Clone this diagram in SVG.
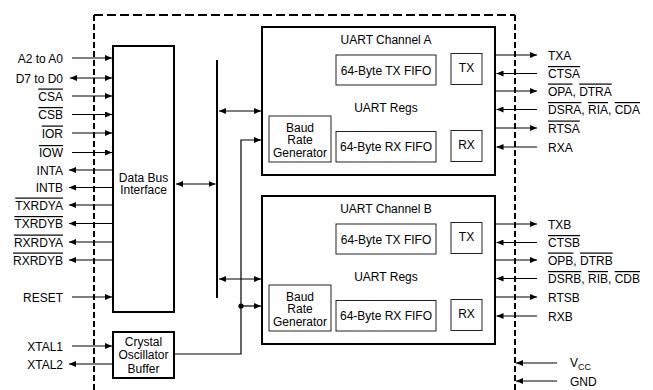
<svg xmlns="http://www.w3.org/2000/svg" width="653" height="390" viewBox="0 0 653 390">
<defs>
<marker id="ah" markerUnits="userSpaceOnUse" markerWidth="8" markerHeight="6" refX="7" refY="3" orient="auto-start-reverse">
<path d="M0,0 L7,3 L0,6 z" fill="#000"/>
</marker>
<style>
text{font-family:"Liberation Sans",Arial,sans-serif;font-size:12px;fill:#000}
.l{text-anchor:end}
.m{text-anchor:middle}
.box{fill:#fff;stroke:#000;stroke-width:2}
.ibox{fill:#fff;stroke:#222;stroke-width:1}
.w{fill:none;stroke:#000;stroke-width:1.2}
.a{marker-end:url(#ah)}
.b{marker-start:url(#ah);marker-end:url(#ah)}
.ov{text-decoration:overline}
.dash{fill:none;stroke:#000;stroke-width:2}
</style>
</defs>
<rect width="653" height="390" fill="#fff"/>
<g id="border">
<path class="dash" d="M94,15 H515" stroke-dasharray="9 4"/>
<path class="dash" d="M94,15 V390" stroke-dasharray="6 3"/>
<path class="dash" d="M515,15 V390" stroke-dasharray="6 3"/>
</g>
<g id="connectors">
<line class="w a" x1="72" y1="58" x2="112" y2="58"/>
<line class="w b" x1="70" y1="78" x2="112" y2="78"/>
<line class="w a" x1="72" y1="96" x2="112" y2="96"/>
<line class="w a" x1="72" y1="114.5" x2="112" y2="114.5"/>
<line class="w a" x1="72" y1="133" x2="112" y2="133"/>
<line class="w a" x1="72" y1="152.5" x2="112" y2="152.5"/>
<line class="w a" x1="112" y1="170" x2="69" y2="170"/>
<line class="w a" x1="112" y1="187.5" x2="69" y2="187.5"/>
<line class="w a" x1="112" y1="205" x2="69" y2="205"/>
<line class="w a" x1="112" y1="223.5" x2="69" y2="223.5"/>
<line class="w a" x1="112" y1="242" x2="69" y2="242"/>
<line class="w a" x1="112" y1="260" x2="69" y2="260"/>
<line class="w a" x1="72" y1="297" x2="112" y2="297"/>
<line class="w a" x1="72" y1="346" x2="112" y2="346"/>
<line class="w a" x1="112" y1="364" x2="69" y2="364"/>
<line x1="217" y1="60" x2="217" y2="298" stroke="#000" stroke-width="2"/>
<line class="w b" x1="176" y1="184" x2="215.5" y2="184"/>
<line class="w b" x1="219" y1="111" x2="261" y2="111"/>
<line class="w b" x1="219" y1="279" x2="261" y2="279"/>
<polyline class="w a" points="175,354 241,354 241,140 261,140"/>
<circle cx="241" cy="306" r="2.6" fill="#000"/>
<line class="w a" x1="241" y1="306" x2="261" y2="306"/>
<line class="w a" x1="496" y1="55" x2="537" y2="55"/>
<line class="w a" x1="537" y1="73.5" x2="496.5" y2="73.5"/>
<line class="w a" x1="496" y1="91" x2="537" y2="91"/>
<line class="w a" x1="537" y1="109.5" x2="496.5" y2="109.5"/>
<line class="w a" x1="496" y1="128" x2="537" y2="128"/>
<line class="w a" x1="537" y1="147" x2="496.5" y2="147"/>
<line class="w a" x1="496" y1="224" x2="537" y2="224"/>
<line class="w a" x1="537" y1="242.5" x2="496.5" y2="242.5"/>
<line class="w a" x1="496" y1="260" x2="537" y2="260"/>
<line class="w a" x1="537" y1="278.5" x2="496.5" y2="278.5"/>
<line class="w a" x1="496" y1="297" x2="537" y2="297"/>
<line class="w a" x1="537" y1="316" x2="496.5" y2="316"/>
<line class="w a" x1="557" y1="363" x2="516" y2="363"/>
<line class="w a" x1="557" y1="381" x2="516" y2="381"/>
</g>
<g id="left-labels">
<text class="l" x="63" y="62.5">A2 to A0</text>
<text class="l" x="63" y="82.5">D7 to D0</text>
<text class="l" x="63" y="100.5"><tspan class="ov">CSA</tspan></text>
<text class="l" x="63" y="119"><tspan class="ov">CSB</tspan></text>
<text class="l" x="63" y="137.5"><tspan class="ov">IOR</tspan></text>
<text class="l" x="63" y="157"><tspan class="ov">IOW</tspan></text>
<text class="l" x="63" y="174.5">INTA</text>
<text class="l" x="63" y="192">INTB</text>
<text class="l" x="63" y="209.5"><tspan class="ov">TXRDYA</tspan></text>
<text class="l" x="63" y="228"><tspan class="ov">TXRDYB</tspan></text>
<text class="l" x="63" y="246.5"><tspan class="ov">RXRDYA</tspan></text>
<text class="l" x="63" y="264.5"><tspan class="ov">RXRDYB</tspan></text>
<text class="l" x="63" y="301.5">RESET</text>
<text class="l" x="63" y="350.5">XTAL1</text>
<text class="l" x="63" y="368.5">XTAL2</text>
</g>
<g id="data-bus-interface">
<rect class="box" x="113" y="46" width="61" height="266"/>
<text class="m" x="143.5" y="182">Data Bus</text>
<text class="m" x="143.5" y="194">Interface</text>
</g>
<g id="crystal-oscillator">
<rect class="box" x="113" y="332" width="61" height="46"/>
<text class="m" x="143.5" y="345.5">Crystal</text>
<text class="m" x="143.5" y="359">Oscillator</text>
<text class="m" x="143.5" y="372.5">Buffer</text>
</g>
<g id="channel-a">
<rect class="box" x="262" y="27" width="233" height="148"/>
<text class="m" x="386" y="44">UART Channel A</text>
<rect class="ibox" x="336" y="55" width="100" height="30"/>
<text class="m" x="386" y="74.5">64-Byte TX FIFO</text>
<rect class="ibox" x="451" y="53.5" width="31" height="31"/>
<text class="m" x="466.5" y="72">TX</text>
<text class="m" x="386" y="112">UART Regs</text>
<rect class="ibox" x="269" y="116" width="62" height="46"/>
<text class="m" x="300" y="131.5">Baud</text>
<text class="m" x="300" y="143.5">Rate</text>
<text class="m" x="300" y="156.5">Generator</text>
<rect class="ibox" x="336" y="131.5" width="100" height="30.5"/>
<text class="m" x="386" y="150.5">64-Byte RX FIFO</text>
<rect class="ibox" x="451" y="130.5" width="31" height="31"/>
<text class="m" x="466.5" y="148.5">RX</text>
</g>
<g id="channel-b">
<rect class="box" x="262" y="196" width="233" height="148"/>
<text class="m" x="386" y="213">UART Channel B</text>
<rect class="ibox" x="336" y="224" width="100" height="30"/>
<text class="m" x="386" y="243.5">64-Byte TX FIFO</text>
<rect class="ibox" x="451" y="222.5" width="31" height="31"/>
<text class="m" x="466.5" y="241">TX</text>
<text class="m" x="386" y="281">UART Regs</text>
<rect class="ibox" x="269" y="285" width="62" height="46"/>
<text class="m" x="300" y="300.5">Baud</text>
<text class="m" x="300" y="312.5">Rate</text>
<text class="m" x="300" y="325.5">Generator</text>
<rect class="ibox" x="336" y="300.5" width="100" height="30.5"/>
<text class="m" x="386" y="319.5">64-Byte RX FIFO</text>
<rect class="ibox" x="451" y="299.5" width="31" height="31"/>
<text class="m" x="466.5" y="317.5">RX</text>
</g>
<g id="right-labels">
<text x="548" y="59.5">TXA</text>
<text x="548" y="78"><tspan class="ov">CTSA</tspan></text>
<text x="548" y="95.5"><tspan class="ov">OPA</tspan>, <tspan class="ov">DTRA</tspan></text>
<text x="548" y="114"><tspan class="ov">DSRA</tspan>, <tspan class="ov">RIA</tspan>, <tspan class="ov">CDA</tspan></text>
<text x="548" y="132.5"><tspan class="ov">RTSA</tspan></text>
<text x="548" y="151.5">RXA</text>
<text x="548" y="228.5">TXB</text>
<text x="548" y="247"><tspan class="ov">CTSB</tspan></text>
<text x="548" y="264.5"><tspan class="ov">OPB</tspan>, <tspan class="ov">DTRB</tspan></text>
<text x="548" y="283"><tspan class="ov">DSRB</tspan>, <tspan class="ov">RIB</tspan>, <tspan class="ov">CDB</tspan></text>
<text x="548" y="301.5">RTSB</text>
<text x="548" y="320.5">RXB</text>
<text x="570" y="367">V<tspan font-size="9" dy="3">CC</tspan></text>
<text x="570" y="385.5">GND</text>
</g>
</svg>
